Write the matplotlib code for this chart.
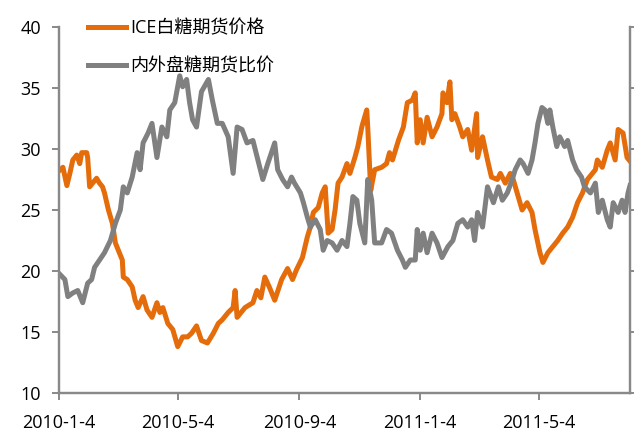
import matplotlib
matplotlib.use('Agg')
import matplotlib.pyplot as plt
import numpy as np
import pandas as pd

plt.rcParams['font.family'] = ['Open Sans', 'Noto Sans CJK SC', 'DejaVu Sans']

start = pd.Timestamp('2010-01-04')

# days after 2010-1-4
ice_days = [0, 4, 8, 11, 14, 18, 21, 23, 28, 29, 31, 34, 38, 41, 44, 46, 50, 54,
            57, 60, 64, 65, 69, 74, 77, 80, 85, 89, 94, 99, 102, 105, 110, 115,
            120, 125, 130, 134, 139, 144, 150, 156, 161, 165, 171, 176, 178, 180,
            188, 196, 200, 204, 208, 213, 218, 225, 231, 236, 240, 246, 251, 254,
            257, 262, 266, 269, 272, 276, 279, 282, 286, 291, 294, 299, 302, 306,
            307, 311, 312, 315, 319, 326, 331, 334, 337, 343, 348, 352, 357, 360,
            362, 365, 368, 372, 377, 382, 387, 388, 392, 395, 397, 400, 405, 408,
            413, 417, 422, 423, 428, 433, 437, 443, 446, 451, 456, 459, 463, 468,
            473, 478, 481, 486, 489, 494, 499, 504, 509, 514, 519, 524, 529, 534,
            542, 544, 549, 554, 557, 562, 565, 570, 574, 577]
ice_price = [28.2, 28.5, 27.0, 28.0, 29.1, 29.5, 28.8, 29.7, 29.7, 29.3, 26.9, 27.2,
             27.6, 27.2, 26.9, 26.4, 25.0, 23.9, 22.3, 21.7, 20.9, 19.5, 19.3, 18.7,
             17.6, 17.0, 17.9, 16.8, 16.2, 17.4, 16.6, 17.0, 15.7, 15.2, 13.8, 14.6,
             14.6, 14.9, 15.5, 14.3, 14.1, 14.9, 15.7, 16.0, 16.6, 17.0, 18.4, 16.2,
             17.0, 17.4, 18.4, 17.8, 19.5, 18.6, 17.6, 19.3, 20.2, 19.3, 20.1, 21.1,
             22.8, 23.6, 24.8, 25.2, 26.4, 26.9, 23.1, 23.4, 25.0, 27.2, 27.7, 28.8,
             28.0, 29.3, 30.2, 31.8, 32.1, 33.2, 31.8, 26.6, 28.3, 28.5, 28.8, 29.7,
             29.1, 30.7, 31.8, 33.8, 34.0, 34.6, 30.5, 32.4, 30.5, 32.6, 31.0, 31.8,
             32.9, 34.6, 33.8, 35.5, 32.4, 32.9, 31.8, 31.0, 31.6, 29.9, 32.9, 29.3,
             31.0, 29.1, 27.7, 27.5, 28.0, 27.2, 28.0, 27.5, 26.4, 25.0, 25.6, 24.8,
             23.4, 21.5, 20.7, 21.5, 22.0, 22.5, 23.1, 23.6, 24.4, 25.6, 26.4, 27.5,
             28.3, 29.1, 28.5, 29.9, 30.5, 29.1, 31.6, 31.3, 29.3, 29.0]

ratio_days = [0, 6, 9, 14, 19, 24, 29, 33, 36, 41, 46, 52, 57, 62, 65, 69, 74, 79,
              82, 85, 90, 94, 99, 104, 109, 112, 117, 122, 125, 129, 132, 135, 139,
              144, 151, 155, 160, 165, 171, 176, 180, 185, 190, 196, 201, 206, 211,
              218, 221, 226, 231, 235, 238, 244, 247, 251, 254, 259, 264, 267, 271,
              276, 281, 286, 291, 294, 297, 301, 304, 309, 312, 316, 319, 326, 331,
              336, 342, 347, 350, 355, 360, 362, 365, 368, 372, 377, 382, 387, 393,
              398, 403, 408, 413, 417, 420, 423, 428, 433, 439, 444, 448, 453, 458,
              461, 466, 469, 474, 478, 481, 484, 488, 491, 494, 496, 499, 503, 506,
              511, 514, 519, 523, 528, 531, 537, 542, 545, 549, 554, 557, 560, 565,
              569, 572, 575, 577]
ratio_vals = [19.8, 19.3, 17.9, 18.2, 18.4, 17.4, 19.0, 19.3, 20.3, 20.9, 21.5, 22.5,
              23.9, 25.0, 26.9, 26.4, 27.7, 29.7, 28.3, 30.5, 31.3, 32.1, 29.3, 31.8,
              31.0, 33.2, 33.8, 36.0, 35.1, 35.7, 33.8, 32.4, 31.8, 34.7, 35.7, 34.0,
              32.1, 32.1, 31.0, 28.0, 31.8, 31.6, 30.5, 30.7, 29.1, 27.5, 28.8, 30.5,
              28.3, 27.5, 26.9, 27.7, 27.2, 26.4, 25.6, 24.4, 23.6, 24.2, 23.4, 21.7,
              22.5, 22.3, 21.7, 22.5, 22.0, 23.9, 26.1, 25.8, 23.9, 22.3, 27.5, 25.8,
              22.3, 22.3, 23.4, 23.1, 21.7, 20.9, 20.3, 20.9, 20.9, 23.4, 21.7, 23.1,
              21.5, 23.1, 22.3, 21.1, 22.0, 22.5, 23.9, 24.2, 23.6, 24.2, 22.5, 24.8,
              23.6, 26.9, 25.6, 26.9, 25.8, 26.4, 27.5, 28.3, 29.1, 28.8, 28.0, 29.1,
              30.5, 32.1, 33.4, 33.2, 32.1, 33.2, 31.8, 30.2, 31.0, 30.2, 30.7, 29.1,
              28.3, 27.7, 26.9, 26.4, 27.2, 24.8, 25.8, 24.2, 23.6, 25.6, 24.8, 25.8,
              24.8, 26.4, 27.0]

tick_dates = ['2010-1-4', '2010-5-4', '2010-9-4', '2011-1-4', '2011-5-4']

ice_x = start + pd.to_timedelta(ice_days, unit='D')
ratio_x = start + pd.to_timedelta(ratio_days, unit='D')

fig = plt.figure(figsize=(6.34, 4.34), dpi=100)
ax = fig.add_axes([0.093, 0.0945, 0.9007, 0.8433])

orange = '#E46C0A'
grey = '#808080'

ax.plot(ice_x, ice_price, color=orange, lw=3.6, label='ICE白糖期货价格',
        solid_joinstyle='round')
ax.plot(ratio_x, ratio_vals, color=grey, lw=3.6, label='内外盘糖期货比价',
        solid_joinstyle='round')

ax.set_ylim(10, 40)
ax.set_yticks(np.arange(10, 41, 5))
ax.set_xlim(start, start + pd.Timedelta(days=577))
ax.set_xticks(pd.to_datetime(tick_dates))
ax.set_xticklabels(tick_dates)

ax2 = ax.twinx()
ax2.set_ylim(10, 40)
ax2.set_yticks(np.arange(10, 41, 5))
ax2.set_yticklabels([])

for a in (ax, ax2):
    for side in ('left', 'right', 'bottom'):
        a.spines[side].set_color('#898989')
        a.spines[side].set_linewidth(1.6)
    a.spines['top'].set_visible(False)
    a.tick_params(length=5, width=1.4, color='#898989', labelsize=13,
                  labelcolor='black')
ax.tick_params(axis='x', pad=10)
ax.tick_params(axis='y', pad=8)

ax.legend(loc='upper left', bbox_to_anchor=(0.023, 1.065), frameon=False,
          handlelength=2.1, handletextpad=0.2, labelspacing=1.1,
          prop={'family': ['Open Sans', 'Noto Sans CJK SC'], 'size': 13})

fig.savefig('out.png', dpi=100)
